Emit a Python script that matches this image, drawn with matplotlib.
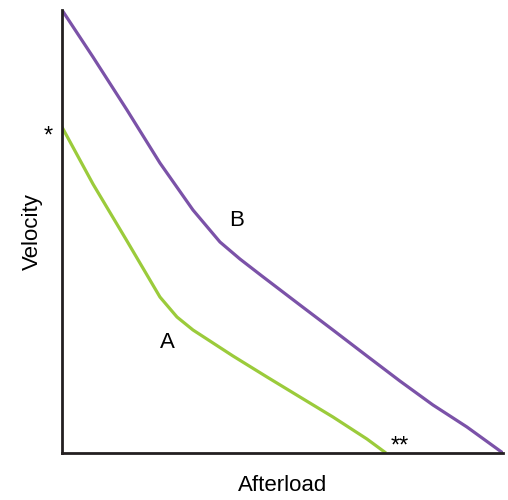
import matplotlib.pyplot as plt

# curve B (purple) - afterload vs velocity, arbitrary units
b_load = [0, 7.03, 14.74, 22.22, 29.71, 35.83, 40.36, 45.35, 53.97, 61.45, 69.16, 76.64, 84.13, 91.84, 100]
b_vel = [100, 89.39, 77.43, 65.46, 54.85, 47.63, 43.79, 39.95, 33.41, 27.77, 21.90, 16.25, 10.84, 5.87, 0]

# curve A (green)
a_load = [0, 7.03, 14.74, 22.22, 26.08, 29.71, 33.56, 38.78, 46.49, 53.97, 61.45, 69.16, 73.47]
a_vel = [73.59, 60.72, 47.86, 35.21, 30.70, 27.77, 25.28, 21.90, 17.16, 12.64, 8.13, 3.16, 0]

plt.rcParams['font.family'] = ['Liberation Sans', 'DejaVu Sans']

fig = plt.figure(figsize=(5.08, 5.0), dpi=100)
ax = fig.add_axes([0.122, 0.094, 0.868, 0.886])

ax.plot(b_load, b_vel, color='#7b52a8', lw=2.3, solid_capstyle='butt', solid_joinstyle='round')
ax.plot(a_load, a_vel, color='#9bcb3b', lw=2.3, solid_capstyle='butt', solid_joinstyle='round')

ax.set_xlim(0, 100)
ax.set_ylim(0, 100)
ax.spines['top'].set_visible(False)
ax.spines['right'].set_visible(False)
for s in ['left', 'bottom']:
    ax.spines[s].set_linewidth(2)
    ax.spines[s].set_color('#231f20')
ax.set_xticks([])
ax.set_yticks([])

ax.text(39.5, 52.5, 'B', fontsize=16, ha='center', va='center')
ax.text(23.8, 25.0, 'A', fontsize=16, ha='center', va='center')
ax.text(-3.2, 71.5, '*', fontsize=17, ha='center', va='center')
ax.text(76.5, 1.5, '**', fontsize=17, ha='center', va='center')

ax.set_xlabel('Afterload', fontsize=16, labelpad=16)
ax.set_ylabel('Velocity', fontsize=16, labelpad=14)

fig.savefig('out.png', dpi=100)
